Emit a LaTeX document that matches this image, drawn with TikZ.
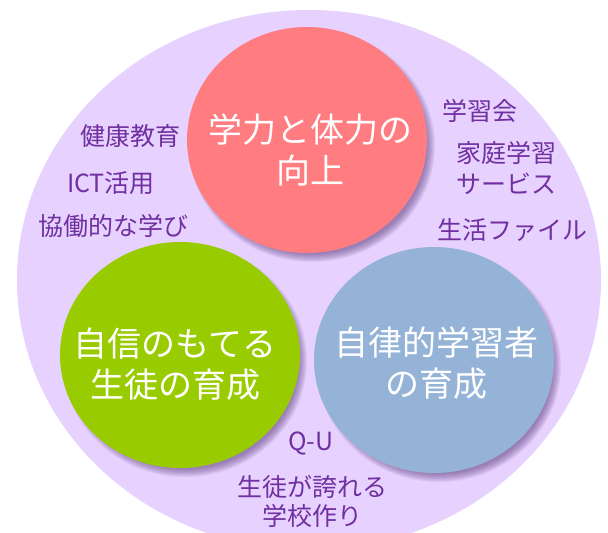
\documentclass[tikz,border=0pt]{standalone}
\usepackage{fontspec}
\usetikzlibrary{shapes.geometric}
\setmainfont{Noto Sans CJK JP}
\definecolor{bgpurple}{HTML}{E6D1FF}
\definecolor{labelpurple}{HTML}{7030A0}
\definecolor{pinkc}{HTML}{FF7C80}
\definecolor{greenc}{HTML}{99CC00}
\definecolor{bluec}{HTML}{95B3D7}
\definecolor{shadowc}{HTML}{5A3A78}
\newcommand\softshadow[3]{%
  \foreach \k in {0,...,8}{%
    \pgfmathsetmacro\rx{#2-5+\k}%
    \pgfmathsetmacro\ry{#3-5+\k}%
    \fill[shadowc, opacity=0.08] ([shift={(5,6)}]#1) ellipse[x radius=\rx pt, y radius=\ry pt];
  }%
}
\begin{document}
\begin{tikzpicture}[x=1pt,y=-1pt,
  lbl/.style={text=labelpurple, font=\fontsize{25}{30}\selectfont, inner sep=0pt},
  big/.style={text=white, font=\fontsize{34}{41}\selectfont, align=center, inner sep=0pt},
  disc/.style={ellipse, inner sep=0pt, minimum width=240pt, minimum height=226pt}]
\useasboundingbox (0,0) rectangle (608,533);
\clip (0,0) rectangle (608,533);
\fill[white] (0,0) rectangle (608,533);
\fill[bgpurple] (309,280) ellipse[x radius=292pt, y radius=270pt];

\coordinate (pc) at (307,140);
\coordinate (gc) at (180,355);
\coordinate (bc) at (434,360);
\softshadow{pc}{120}{113}
\node[disc, fill=pinkc] (pink) at (pc) {};
\softshadow{gc}{119}{113}
\node[disc, fill=greenc] (green) at (gc) {};
\softshadow{bc}{119}{113}
\node[disc, fill=bluec] (blue) at (bc) {};

\node[big] (t1) at (310,150) {学力と体力の\\向上};
\node[big] (t2) at (175,364) {自信のもてる\\生徒の育成};
\node[big] (t3) at (436,363) {自律的学習者\\の育成};

\node[lbl] (kenko) at (130,136) {健康教育};
\node[lbl] (ict) at (111,183) {ICT活用};
\node[lbl] (kyodo) at (113,226) {協働的な学び};
\node[lbl] (gakushukai) at (480,111) {学習会};
\node[lbl] (katei) at (506,153) {家庭学習};
\node[lbl] (service) at (506,184) {サービス};
\node[lbl] (seikatsu) at (512,230) {生活ファイル};
\node[lbl] (qu) at (311,443) {Q-U};
\node[lbl] (hokoreru) at (312,487) {生徒が誇れる};
\node[lbl] (gakko) at (312,516) {学校作り};
\end{tikzpicture}
\end{document}
